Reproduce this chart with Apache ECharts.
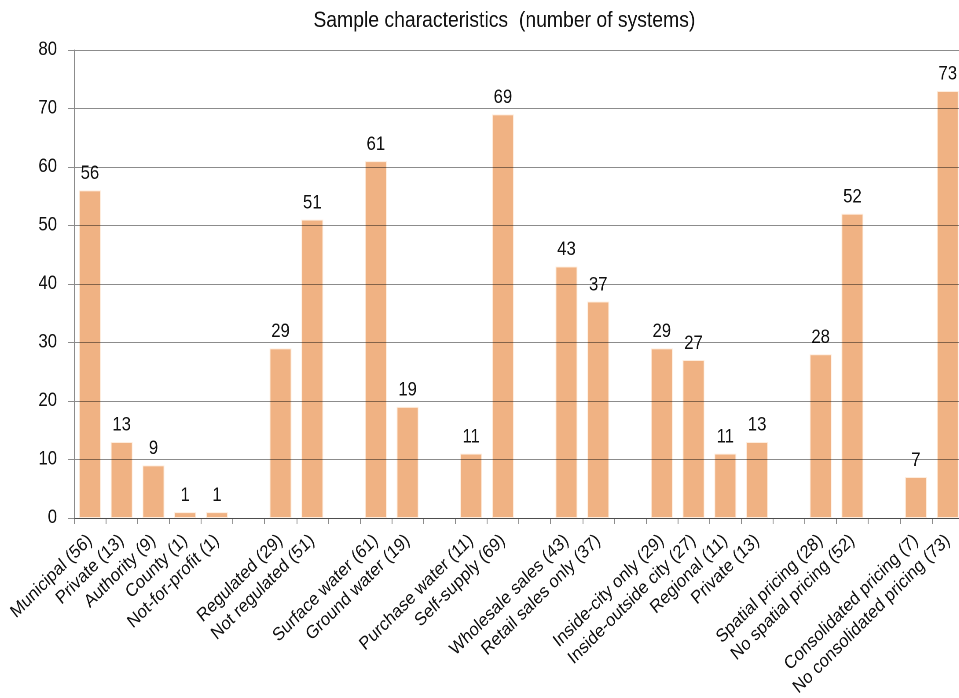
<!DOCTYPE html>
<html>
<head>
<meta charset="utf-8">
<script src="https://cdn.jsdelivr.net/npm/echarts@6/dist/echarts.min.js"></script>
<style>
  html, body { margin: 0; padding: 0; background: #fff; overflow: hidden; }
  /* The chart is laid out wider and condensed horizontally so the
     Arial-style text gets the narrow look of a condensed face. */
  #chart {
    width: 1090px; height: 698px;
    transform: scaleX(0.88); transform-origin: 0 0;
  }
</style>
</head>
<body>
<div id="chart"></div>
<script>
// Category slots; empty strings leave a blank slot between groups
const categories = [
  'Municipal (56)', 'Private (13)', 'Authority (9)', 'County (1)', 'Not-for-profit (1)',
  '',
  'Regulated (29)', 'Not regulated (51)',
  '',
  'Surface water (61)', 'Ground water (19)',
  '',
  'Purchase water (11)', 'Self-supply (69)',
  '',
  'Wholesale sales (43)', 'Retail sales only (37)',
  '',
  'Inside-city only (29)', 'Inside-outside city (27)', 'Regional (11)', 'Private (13)',
  '',
  'Spatial pricing (28)', 'No spatial pricing (52)',
  '',
  'Consolidated pricing (7)', 'No consolidated pricing (73)'
];

// Number of systems per category (null = blank slot)
const systemCounts = [
  56, 13, 9, 1, 1,
  null,
  29, 51,
  null,
  61, 19,
  null,
  11, 69,
  null,
  43, 37,
  null,
  29, 27, 11, 13,
  null,
  28, 52,
  null,
  7, 73
];

const yTicks = { min: 0, max: 80, interval: 10 };

// horizontal condensing factor applied to the container
const SX = 0.88;
const visualAngle = 45;
const labelRotate = Math.atan(Math.tan(visualAngle * Math.PI / 180) * SX) * 180 / Math.PI;

const chart = echarts.init(document.getElementById('chart'), null, {
  renderer: 'canvas', devicePixelRatio: 2
});

const font = 'Arial, "Liberation Sans", sans-serif';

chart.setOption({
  backgroundColor: '#ffffff',
  animation: false,
  title: {
    text: 'Sample characteristics  (number of systems)',
    left: 309 / SX,
    top: 5,
    textStyle: { fontFamily: font, fontSize: 22, fontWeight: 'normal', color: '#111' }
  },
  grid: {
    left: 74 / SX, top: 50, bottom: 180, right: -5,
    containLabel: false, outerBoundsMode: 'none'
  },
  xAxis: {
    type: 'category',
    data: categories,
    boundaryGap: true,
    axisLine: { show: true, lineStyle: { color: '#8c8c8c', width: 1 } },
    axisTick: { show: true, length: 6, lineStyle: { color: '#8c8c8c' } },
    axisLabel: {
      interval: 0,
      rotate: labelRotate,
      margin: 20,
      fontFamily: font,
      fontSize: 18.5,
      color: '#111'
    },
    splitLine: { show: false }
  },
  yAxis: {
    type: 'value',
    min: yTicks.min,
    max: yTicks.max,
    interval: yTicks.interval,
    z: 3,
    axisLine: { show: true, lineStyle: { color: '#8c8c8c', width: 1 } },
    axisTick: { show: true, length: 6 / SX, lineStyle: { color: '#8c8c8c' } },
    axisLabel: { margin: 17 / SX, fontFamily: font, fontSize: 19, color: '#111' },
    splitLine: { show: true, lineStyle: { color: 'rgba(0,0,0,0.45)', width: 1 } }
  },
  series: [{
    type: 'bar',
    data: systemCounts,
    barCategoryGap: '31%',
    itemStyle: {
      color: '#F0B283',
      borderColor: 'rgba(255,240,225,0.9)',
      borderWidth: 1
    },
    label: {
      show: true,
      position: 'top',
      distance: 7,
      fontFamily: font,
      fontSize: 19,
      color: '#111'
    }
  }]
});
</script>
</body>
</html>
